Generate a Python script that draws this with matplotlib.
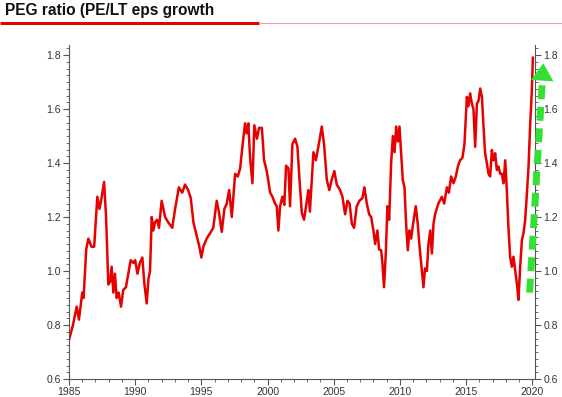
import matplotlib
matplotlib.use("Agg")
import matplotlib.pyplot as plt
from matplotlib.lines import Line2D
from matplotlib.ticker import MultipleLocator

plt.rcParams['font.family'] = ['Liberation Sans', 'DejaVu Sans']

# PEG ratio
years = [
    1985.0, 1985.3, 1985.58, 1985.75, 1986.0, 1986.1, 1986.3, 1986.46, 1986.7, 1986.9,
    1987.14, 1987.3, 1987.42, 1987.65, 1987.8, 1987.97, 1988.1, 1988.22, 1988.35, 1988.47,
    1988.6, 1988.75, 1988.93, 1989.1, 1989.3, 1989.66, 1989.86, 1990.0, 1990.17, 1990.35,
    1990.54, 1990.69, 1990.87, 1991.0, 1991.12, 1991.25, 1991.37, 1991.5, 1991.65, 1991.8,
    1992.0, 1992.26, 1992.5, 1992.8, 1993.0, 1993.3, 1993.55, 1993.77, 1994.0, 1994.2,
    1994.4, 1994.65, 1994.85, 1995.0, 1995.15, 1995.4, 1995.66, 1995.9, 1996.16, 1996.34,
    1996.54, 1996.74, 1996.92, 1997.1, 1997.3, 1997.55, 1997.75, 1997.93, 1998.1, 1998.3,
    1998.42, 1998.55, 1998.68, 1998.86, 1999.0, 1999.2, 1999.36, 1999.57, 1999.74, 1999.94,
    2000.2, 2000.37, 2000.57, 2000.7, 2000.82, 2000.95, 2001.12, 2001.27, 2001.4, 2001.58,
    2001.7, 2001.88, 2002.08, 2002.26, 2002.4, 2002.59, 2002.76, 2002.91, 2003.09, 2003.2,
    2003.47, 2003.65, 2003.84, 2004.1, 2004.27, 2004.48, 2004.67, 2004.86, 2005.05, 2005.23,
    2005.48, 2005.66, 2005.86, 2006.04, 2006.2, 2006.37, 2006.54, 2006.74, 2006.94, 2007.17,
    2007.32, 2007.5, 2007.68, 2007.83, 2008.0, 2008.13, 2008.3, 2008.43, 2008.58, 2008.68,
    2008.8, 2008.94, 2009.06, 2009.19, 2009.34, 2009.47, 2009.6, 2009.72, 2009.85, 2009.97,
    2010.1, 2010.22, 2010.35, 2010.47, 2010.6, 2010.72, 2010.85, 2011.0, 2011.2, 2011.35,
    2011.47, 2011.66, 2011.78, 2011.9, 2012.04, 2012.16, 2012.29, 2012.42, 2012.54, 2012.66,
    2012.91, 2013.17, 2013.35, 2013.55, 2013.7, 2013.87, 2014.05, 2014.23, 2014.38, 2014.55,
    2014.73, 2014.88, 2015.06, 2015.18, 2015.31, 2015.44, 2015.56, 2015.69, 2015.82, 2015.94,
    2016.07, 2016.2, 2016.32, 2016.44, 2016.57, 2016.7, 2016.82, 2016.95, 2017.07, 2017.2,
    2017.33, 2017.45, 2017.58, 2017.7, 2017.83, 2017.96, 2018.08, 2018.2, 2018.33, 2018.46,
    2018.58, 2018.71, 2018.84, 2018.96, 2019.09, 2019.22, 2019.34, 2019.47, 2019.6, 2019.72,
    2019.85, 2019.97, 2020.05,
]
peg = [
    0.745, 0.80, 0.868, 0.82, 0.92, 0.90, 1.08, 1.12, 1.09, 1.09,
    1.275, 1.23, 1.26, 1.33, 1.20, 0.95, 0.96, 1.016, 0.92, 0.99,
    0.90, 0.92, 0.868, 0.93, 0.94, 1.04, 1.03, 1.04, 0.99, 1.03,
    1.05, 0.955, 0.88, 0.97, 1.0, 1.20, 1.15, 1.18, 1.19, 1.16,
    1.26, 1.20, 1.18, 1.16, 1.225, 1.31, 1.29, 1.32, 1.30, 1.27,
    1.18, 1.13, 1.09, 1.05, 1.09, 1.12, 1.14, 1.16, 1.26, 1.215,
    1.145, 1.23, 1.25, 1.30, 1.20, 1.36, 1.35, 1.38, 1.46, 1.547,
    1.51, 1.547, 1.42, 1.325, 1.54, 1.49, 1.53, 1.53, 1.41, 1.37,
    1.29, 1.275, 1.25, 1.24, 1.15, 1.24, 1.275, 1.245, 1.39, 1.38,
    1.24, 1.47, 1.49, 1.46, 1.35, 1.215, 1.19, 1.24, 1.30, 1.22,
    1.44, 1.41, 1.46, 1.535, 1.47, 1.337, 1.30, 1.34, 1.37, 1.32,
    1.30, 1.275, 1.21, 1.26, 1.25, 1.175, 1.16, 1.24, 1.26, 1.27,
    1.31, 1.25, 1.21, 1.20, 1.15, 1.10, 1.15, 1.08, 1.077, 1.03,
    0.94, 1.07, 1.24, 1.19, 1.40, 1.50, 1.44, 1.535, 1.48, 1.535,
    1.43, 1.337, 1.31, 1.175, 1.077, 1.15, 1.12, 1.175, 1.24, 1.175,
    1.10, 1.004, 0.94, 1.01, 1.00, 1.10, 1.15, 1.065, 1.175, 1.21,
    1.25, 1.275, 1.25, 1.31, 1.29, 1.35, 1.325, 1.35, 1.387, 1.41,
    1.42, 1.47, 1.645, 1.61, 1.658, 1.62, 1.60, 1.46, 1.62, 1.63,
    1.676, 1.645, 1.535, 1.436, 1.40, 1.36, 1.35, 1.448, 1.41, 1.436,
    1.374, 1.387, 1.36, 1.36, 1.325, 1.41, 1.30, 1.164, 1.053, 1.016,
    1.053, 1.005, 0.954, 0.893, 1.016, 1.115, 1.14, 1.19, 1.288, 1.387,
    1.547, 1.67, 1.79,
]

title = "PEG ratio (PE/LT eps growth"
arrow_start = (2019.8, 0.92)
arrow_end = (2020.85, 1.78)

red = "#e60000"
green = "#33e033"
axis_col = "#555555"
label_col = "#333333"

fig = plt.figure(figsize=(5.62, 3.97), dpi=100)
ax = fig.add_axes([0.1228, 0.0453, 0.8294, 0.8413])

ax.plot(years, peg, color=red, lw=1.8, solid_joinstyle="round")

ax.set_xlim(1985, 2020.22)
ax.set_ylim(0.6, 1.837)
ax.xaxis.set_major_locator(MultipleLocator(5))
ax.xaxis.set_minor_locator(MultipleLocator(1))
ax.yaxis.set_major_locator(MultipleLocator(0.2))
ax.yaxis.set_minor_locator(MultipleLocator(0.025))
ax.yaxis.set_major_formatter(plt.FormatStrFormatter("%.1f"))

ax.spines["top"].set_visible(False)
for s in ("left", "right", "bottom"):
    ax.spines[s].set_color(axis_col)
    ax.spines[s].set_linewidth(0.8)

ax.tick_params(axis="y", which="both", left=True, right=True,
               labelleft=True, labelright=True, direction="out")
ax.tick_params(which="major", length=4, width=0.8, color=axis_col,
               labelsize=7.5, labelcolor=label_col, pad=2)
ax.tick_params(which="minor", length=2, width=0.6, color=axis_col)

# green dashed arrow at the right edge
ax.plot([arrow_start[0], arrow_end[0] - 0.08], [arrow_start[1], arrow_end[1] - 0.07],
        color=green, lw=5, dashes=(2.0, 1.1), solid_capstyle="butt",
        dash_capstyle="butt", clip_on=False, zorder=5)
ax.annotate("", xy=arrow_end, xytext=(arrow_end[0] - 0.1, arrow_end[1] - 0.08),
            arrowprops=dict(arrowstyle="-|>,head_length=0.7,head_width=0.45",
                            mutation_scale=18, color=green, lw=0),
            annotation_clip=False, zorder=5)

fig.text(0.009, 0.992, title, fontsize=11.2, fontweight="bold",
         color="#111111", va="top", ha="left")
fig.add_artist(Line2D([0, 259 / 562], [0.942, 0.942], transform=fig.transFigure,
                      color=red, lw=2.2, solid_capstyle="butt"))
fig.add_artist(Line2D([259 / 562, 1], [0.942, 0.942], transform=fig.transFigure,
                      color="#f4a0a0", lw=0.8))

fig.savefig("out.png", dpi=100)
